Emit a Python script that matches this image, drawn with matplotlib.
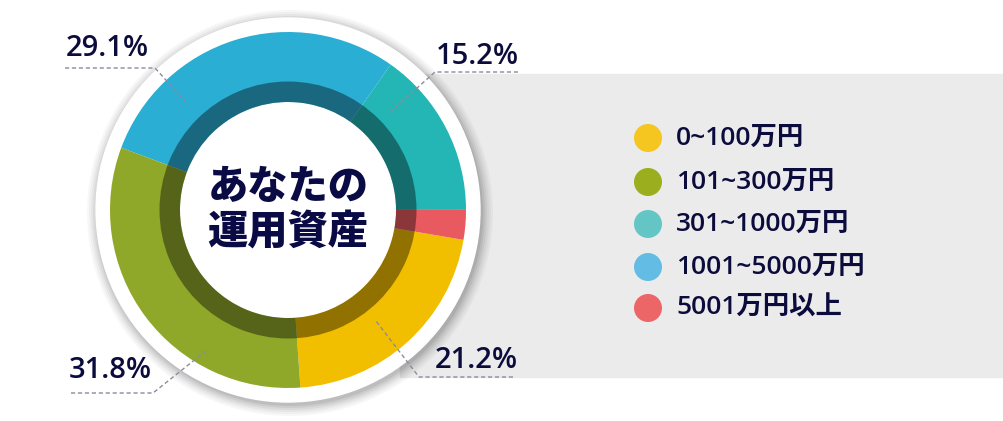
import matplotlib.pyplot as plt
from matplotlib.patches import Circle, Wedge, Rectangle

plt.rcParams['font.family'] = ['Open Sans', 'Noto Sans CJK JP', 'DejaVu Sans']

# data
categories = ['0~100万円', '101~300万円', '301~1000万円', '1001~5000万円', '5001万円以上']
shares = [21.2, 31.8, 15.2, 29.1, 2.7]
legend_colors = ['#F5C520', '#9BAF1E', '#63C5C4', '#62BCE3', '#EC6668']
ring_colors = ['#F2BE00', '#8FA829', '#24B5B5', '#2BAED4', '#E95A60']

# pie goes counter-clockwise from the bottom: yellow, red, teal, blue, green
order = [0, 4, 2, 3, 1]
pie_vals = [shares[i] for i in order]
pie_cols = [ring_colors[i] for i in order]

W, H = 1004, 421
fig = plt.figure(figsize=(W / 100, H / 100), dpi=100)
ax = fig.add_axes([0, 0, 1, 1])

cx, cy = 288, 211
r_out, r_in = 178, 108

# grey panel behind
ax.add_patch(Rectangle((400, 44), 604, 303, color='#EBEBEB', zorder=0))

# shadow + white border
for k, a in enumerate([0.03, 0.03, 0.04, 0.05, 0.06, 0.07]):
    ax.add_patch(Circle((cx + 2, cy - 3), 203 - 2 * k, color='#000000', alpha=a, lw=0, zorder=1))
ax.add_patch(Circle((cx, cy), 192, color='white', zorder=2))

ax.pie(pie_vals, colors=pie_cols, startangle=-86, counterclock=True,
       radius=r_out, center=(cx, cy), frame=True,
       wedgeprops=dict(width=r_out - r_in, linewidth=0, zorder=3))
ax.set_xlim(0, W)
ax.set_ylim(0, H)
ax.set_aspect('equal')
ax.axis('off')

# darker inner band
ax.add_patch(Wedge((cx, cy), 128.5, 0, 360, width=20.5, color='black', alpha=0.4, lw=0, zorder=4))

# centre title
cjk = ['Noto Sans CJK JP', 'DejaVu Sans']
ax.text(cx, 234, 'あなたの', ha='center', va='center', fontsize=29, fontweight='heavy',
        color='#0A0A45', zorder=6, family=cjk)
ax.text(cx, 188, '運用資産', ha='center', va='center', fontsize=29, fontweight='heavy',
        color='#0A0A45', zorder=6, family=cjk)

# percentage labels with dashed leaders
labels = ['29.1%', '15.2%', '21.2%', '31.8%']
label_xy = [(107, 373), (477, 365), (476, 61), (110, 50)]
leaders = [
    [(65, 353), (155, 353), (185, 320)],
    [(518, 349), (435, 349), (389, 308)],
    [(513, 44), (419, 44), (376, 100)],
    [(71, 28), (153, 28), (207, 71)],
]
for lab, (tx, ty), pts in zip(labels, label_xy, leaders):
    ax.text(tx, ty, lab, ha='center', va='center', fontsize=21, fontweight='semibold',
            color='#0C0C3C', zorder=6)
    xs = [p[0] for p in pts]
    ys = [p[1] for p in pts]
    ax.plot(xs, ys, color='#8C8C9C', lw=1, ls=(0, (3, 2)), zorder=5)

# legend
leg_y = [283, 239, 197, 154, 113]
for cat, col, y in zip(categories, legend_colors, leg_y):
    ax.add_patch(Circle((648, y), 14, color=col, lw=0, zorder=3))
    ax.text(676, y, cat, ha='left', va='center', fontsize=19, fontweight='semibold',
            color='#0C0C3C', zorder=3)

fig.savefig('out.png', dpi=100)
